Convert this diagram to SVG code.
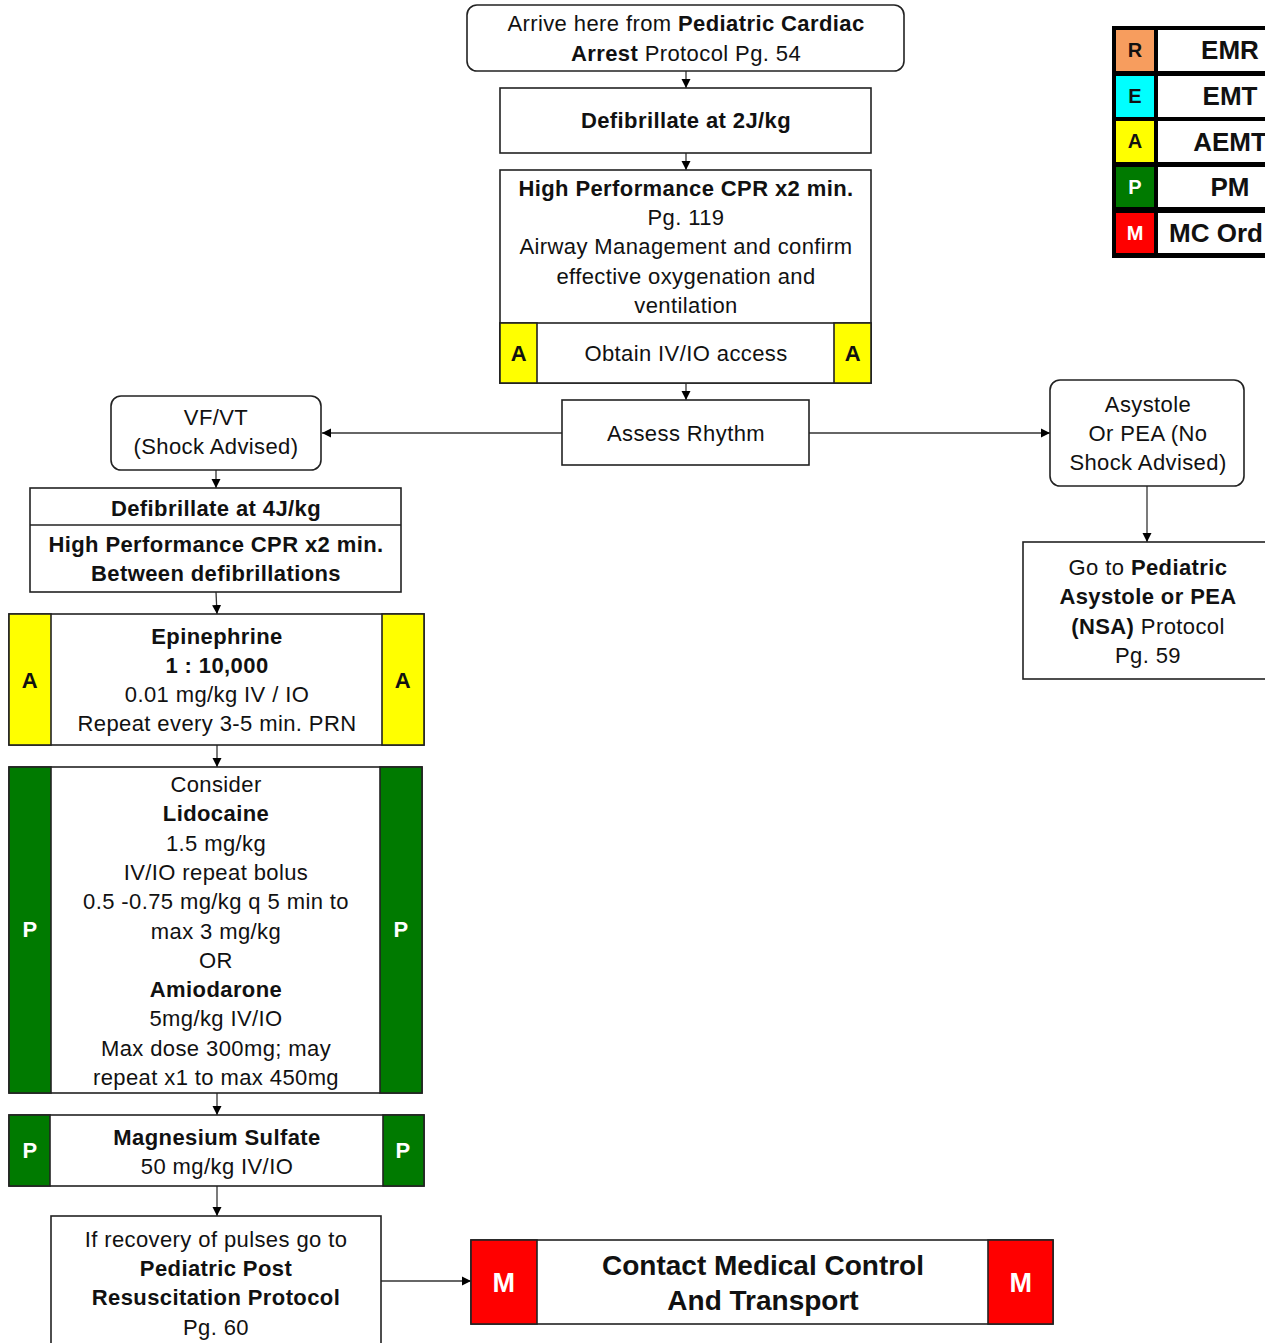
<svg xmlns="http://www.w3.org/2000/svg" width="1265" height="1343" viewBox="0 0 1265 1343">
<defs>
<marker id="arr" markerWidth="10" markerHeight="10" refX="9" refY="5" orient="auto" markerUnits="userSpaceOnUse">
<path d="M0,0.5 L9,5 L0,9.5 Z" fill="#000"/>
</marker>
<style>
text{font-family:"Liberation Sans",Arial,sans-serif;font-size:22px;fill:#111;text-anchor:middle;letter-spacing:0.4px}
.b{font-weight:bold}
.box{fill:#fff;stroke:#222;stroke-width:1.6}
.yl{fill:#FFFF00;stroke:#222;stroke-width:1.6}
.gr{fill:#007A00;stroke:#222;stroke-width:1.6}
.rd{fill:#FF0000;stroke:#222;stroke-width:1.6}
.wt{fill:#fff}
.con{stroke:#333;stroke-width:1.3;fill:none;marker-end:url(#arr)}
</style>
</defs>

<g id="connectors">
<line class="con" x1="686" y1="71" x2="686" y2="88"/>
<line class="con" x1="686" y1="153" x2="686" y2="170"/>
<line class="con" x1="686" y1="383" x2="686" y2="400"/>
<line class="con" x1="562" y1="433" x2="322" y2="433"/>
<line class="con" x1="809" y1="433" x2="1050" y2="433"/>
<line class="con" x1="1147" y1="486" x2="1147" y2="542"/>
<line class="con" x1="216" y1="470" x2="216" y2="488"/>
<line class="con" x1="216" y1="592" x2="217" y2="614"/>
<line class="con" x1="217" y1="745" x2="217" y2="767"/>
<line class="con" x1="217" y1="1093" x2="217" y2="1115"/>
<line class="con" x1="217" y1="1186" x2="217" y2="1216"/>
<line class="con" x1="381" y1="1281" x2="471" y2="1281"/>
</g>

<g id="arrive">
<rect class="box" x="467" y="5" width="437" height="66" rx="10"/>
<text x="686" y="31">Arrive here from <tspan class="b">Pediatric Cardiac</tspan></text>
<text x="686" y="61"><tspan class="b">Arrest</tspan> Protocol Pg. 54</text>
</g>

<g id="defib2">
<rect class="box" x="500" y="88" width="371" height="65"/>
<text class="b" x="686" y="128">Defibrillate at 2J/kg</text>
</g>

<g id="cpr">
<rect class="box" x="500" y="170" width="371" height="213"/>
<text class="b" x="686" y="196">High Performance CPR x2 min.</text>
<text x="686" y="225">Pg. 119</text>
<text x="686" y="254">Airway Management and confirm</text>
<text x="686" y="284">effective oxygenation and</text>
<text x="686" y="313">ventilation</text>
<rect class="box" x="500" y="323" width="371" height="60"/>
<rect class="yl" x="500" y="323" width="37" height="60"/>
<rect class="yl" x="834" y="323" width="37" height="60"/>
<text class="b" x="519" y="361">A</text>
<text class="b" x="853" y="361">A</text>
<text x="686" y="361">Obtain IV/IO access</text>
</g>

<g id="assess">
<rect class="box" x="562" y="400" width="247" height="65"/>
<text x="686" y="441">Assess Rhythm</text>
</g>

<g id="vfvt">
<rect class="box" x="111" y="396" width="210" height="74" rx="10"/>
<text x="216" y="425">VF/VT</text>
<text x="216" y="454">(Shock Advised)</text>
</g>

<g id="asystole">
<rect class="box" x="1050" y="380" width="194" height="106" rx="10"/>
<text x="1148" y="412">Asystole</text>
<text x="1148" y="441">Or PEA (No</text>
<text x="1148" y="470">Shock Advised)</text>
</g>

<g id="goto">
<rect class="box" x="1023" y="542" width="250" height="137"/>
<text x="1148" y="575">Go to <tspan class="b">Pediatric</tspan></text>
<text class="b" x="1148" y="604">Asystole or PEA</text>
<text x="1148" y="634"><tspan class="b">(NSA)</tspan> Protocol</text>
<text x="1148" y="663">Pg. 59</text>
</g>

<g id="defib4">
<rect class="box" x="30" y="488" width="371" height="104"/>
<line x1="30" y1="525" x2="401" y2="525" stroke="#222" stroke-width="1.6"/>
<text class="b" x="216" y="516">Defibrillate at 4J/kg</text>
<text class="b" x="216" y="552">High Performance CPR x2 min.</text>
<text class="b" x="216" y="581">Between defibrillations</text>
</g>

<g id="epinephrine">
<rect class="box" x="9" y="614" width="415" height="131"/>
<rect class="yl" x="9" y="614" width="42" height="131"/>
<rect class="yl" x="382" y="614" width="42" height="131"/>
<text class="b" x="30" y="688">A</text>
<text class="b" x="403" y="688">A</text>
<text class="b" x="217" y="644">Epinephrine</text>
<text class="b" x="217" y="673">1 : 10,000</text>
<text x="217" y="702">0.01 mg/kg IV / IO</text>
<text x="217" y="731">Repeat every 3-5 min. PRN</text>
</g>

<g id="lidocaine">
<rect class="box" x="9" y="767" width="413" height="326"/>
<rect class="gr" x="9" y="767" width="42" height="326"/>
<rect class="gr" x="380" y="767" width="42" height="326"/>
<text class="b wt" x="30" y="937">P</text>
<text class="b wt" x="401" y="937">P</text>
<text x="216" y="792">Consider</text>
<text class="b" x="216" y="821">Lidocaine</text>
<text x="216" y="851">1.5 mg/kg</text>
<text x="216" y="880">IV/IO repeat bolus</text>
<text x="216" y="909">0.5 -0.75 mg/kg q 5 min to</text>
<text x="216" y="939">max 3 mg/kg</text>
<text x="216" y="968">OR</text>
<text class="b" x="216" y="997">Amiodarone</text>
<text x="216" y="1026">5mg/kg IV/IO</text>
<text x="216" y="1056">Max dose 300mg; may</text>
<text x="216" y="1085">repeat x1 to max 450mg</text>
</g>

<g id="magnesium">
<rect class="box" x="9" y="1115" width="415" height="71"/>
<rect class="gr" x="9" y="1115" width="41" height="71"/>
<rect class="gr" x="383" y="1115" width="41" height="71"/>
<text class="b wt" x="30" y="1158">P</text>
<text class="b wt" x="403" y="1158">P</text>
<text class="b" x="217" y="1145">Magnesium Sulfate</text>
<text x="217" y="1174">50 mg/kg IV/IO</text>
</g>

<g id="recovery">
<rect class="box" x="51" y="1216" width="330" height="140"/>
<text x="216" y="1247">If recovery of pulses go to</text>
<text class="b" x="216" y="1276">Pediatric Post</text>
<text class="b" x="216" y="1305">Resuscitation Protocol</text>
<text x="216" y="1335">Pg. 60</text>
</g>

<g id="contact">
<rect class="box" x="471" y="1240" width="582" height="84"/>
<rect class="rd" x="471" y="1240" width="66" height="84"/>
<rect class="rd" x="988" y="1240" width="65" height="84"/>
<text class="b wt" x="504" y="1292" style="font-size:27px">M</text>
<text class="b wt" x="1021" y="1292" style="font-size:27px">M</text>
<text class="b" x="763" y="1275" style="font-size:28px;letter-spacing:0">Contact Medical Control</text>
<text class="b" x="763" y="1310" style="font-size:28px;letter-spacing:0">And Transport</text>
</g>

<g id="legend">
<rect x="1112" y="26" width="160" height="232" fill="#000"/>
<rect x="1116" y="30" width="38" height="41" fill="#F79D5E"/>
<rect x="1158" y="30" width="110" height="41" fill="#fff"/>
<rect x="1116" y="76" width="38" height="41" fill="#00FFFF"/>
<rect x="1158" y="76" width="110" height="41" fill="#fff"/>
<rect x="1116" y="121" width="38" height="41" fill="#FFFF00"/>
<rect x="1158" y="121" width="110" height="41" fill="#fff"/>
<rect x="1116" y="167" width="38" height="40" fill="#007A00"/>
<rect x="1158" y="167" width="110" height="40" fill="#fff"/>
<rect x="1116" y="213" width="38" height="40" fill="#FF0000"/>
<rect x="1158" y="213" width="110" height="40" fill="#fff"/>
<text class="b" x="1135" y="57" style="font-size:20px;letter-spacing:0">R</text>
<text class="b" x="1135" y="103" style="font-size:20px;letter-spacing:0">E</text>
<text class="b" x="1135" y="148" style="font-size:20px;letter-spacing:0">A</text>
<text class="b wt" x="1135" y="194" style="font-size:20px;letter-spacing:0">P</text>
<text class="b wt" x="1135" y="240" style="font-size:20px;letter-spacing:0">M</text>
<text class="b" x="1230" y="59" style="font-size:26px;letter-spacing:0">EMR</text>
<text class="b" x="1230" y="105" style="font-size:26px;letter-spacing:0">EMT</text>
<text class="b" x="1230" y="151" style="font-size:26px;letter-spacing:0">AEMT</text>
<text class="b" x="1230" y="196" style="font-size:26px;letter-spacing:0">PM</text>
<text class="b" x="1169" y="242" style="font-size:26px;letter-spacing:0;text-anchor:start">MC Ord</text>
</g>
</svg>
